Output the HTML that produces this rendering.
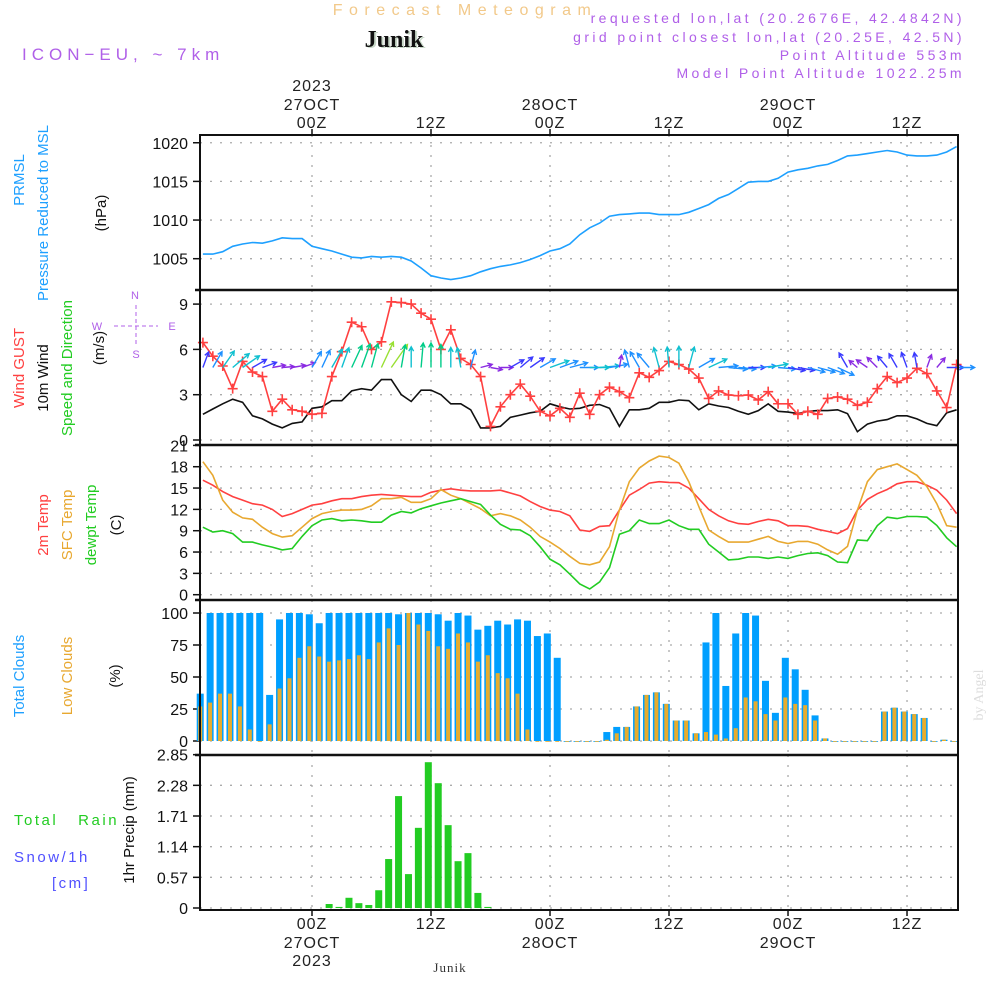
<!DOCTYPE html>
<html><head><meta charset="utf-8"><style>
html,body{margin:0;padding:0;background:#fff;}
svg{display:block;font-family:"Liberation Sans",sans-serif;}
</style></head><body>
<svg id="chart" width="1000" height="1000" viewBox="0 0 1000 1000">
<g id="static">
<text x="465" y="15" font-size="16" fill="#f2c98a" text-anchor="middle" letter-spacing="6.5">Forecast Meteogram</text>
<text x="396" y="48" font-size="24" font-weight="bold" font-family="Liberation Serif,serif" fill="#c8d8c8" text-anchor="middle">Junik</text>
<text x="394" y="47" font-size="24" font-weight="bold" font-family="Liberation Serif,serif" fill="#111" text-anchor="middle">Junik</text>
<text x="22" y="60" font-size="17" fill="#b060e8" letter-spacing="5">ICON−EU, ~ 7km</text>
<g font-size="14" fill="#b060e8" text-anchor="end" letter-spacing="3.4">
<text x="965" y="23">requested lon,lat (20.2676E, 42.4842N)</text>
<text x="965" y="42">grid point closest lon,lat (20.25E, 42.5N)</text>
<text x="965" y="60">Point Altitude 553m</text>
<text x="965" y="78">Model Point Altitude 1022.25m</text>
</g>
<g font-size="16" fill="#222" text-anchor="middle" letter-spacing="1">
<text x="312" y="91">2023</text><text x="312" y="110">27OCT</text><text x="312" y="128">00Z</text>
<text x="431" y="128">12Z</text>
<text x="550" y="110">28OCT</text><text x="550" y="128">00Z</text>
<text x="669" y="128">12Z</text>
<text x="788" y="110">29OCT</text><text x="788" y="128">00Z</text>
<text x="907" y="128">12Z</text>
</g>
<g font-size="16" fill="#222" text-anchor="middle" letter-spacing="1">
<text x="312" y="929">00Z</text><text x="312" y="948">27OCT</text><text x="312" y="966">2023</text>
<text x="431" y="929">12Z</text>
<text x="550" y="929">00Z</text><text x="550" y="948">28OCT</text>
<text x="669" y="929">12Z</text>
<text x="788" y="929">00Z</text><text x="788" y="948">29OCT</text>
<text x="907" y="929">12Z</text>
</g>
<text x="450" y="972" font-size="13" font-family="Liberation Serif,serif" fill="#333" text-anchor="middle" letter-spacing="1">Junik</text>
<text transform="translate(983,695) rotate(-90)" font-size="14" font-family="Liberation Serif,serif" fill="#ddd" text-anchor="middle">by Angel</text>
<g font-size="15" text-anchor="middle">
<text transform="translate(24,180) rotate(-90)" fill="#1ea0ff">PRMSL</text>
<text transform="translate(48,213) rotate(-90)" fill="#1ea0ff">Pressure Reduced to MSL</text>
<text transform="translate(106,213) rotate(-90)" fill="#111">(hPa)</text>
<text transform="translate(24,368) rotate(-90)" fill="#ff4040">Wind GUST</text>
<text transform="translate(48,378) rotate(-90)" fill="#111">10m Wind</text>
<text transform="translate(72,368) rotate(-90)" fill="#22cc22">Speed and Direction</text>
<text transform="translate(104,348) rotate(-90)" fill="#111">(m/s)</text>
<text transform="translate(48,525) rotate(-90)" fill="#ff4040">2m Temp</text>
<text transform="translate(72,525) rotate(-90)" fill="#e8a830">SFC Temp</text>
<text transform="translate(96,525) rotate(-90)" fill="#22cc22">dewpt Temp</text>
<text transform="translate(121,525) rotate(-90)" fill="#111">(C)</text>
<text transform="translate(24,676) rotate(-90)" fill="#1ea0ff">Total Clouds</text>
<text transform="translate(72,676) rotate(-90)" fill="#e8a830">Low Clouds</text>
<text transform="translate(120,676) rotate(-90)" fill="#111">(%)</text>
<text transform="translate(134,830) rotate(-90)" fill="#111">1hr Precip (mm)</text>
</g>
<g font-size="15" letter-spacing="2.5">
<text x="14" y="825" fill="#22cc22">Total &#160;&#160;Rain</text>
<text x="14" y="862" fill="#5050ff">Snow/1h</text>
<text x="52" y="888" fill="#5050ff">[cm]</text>
</g>
<g fill="#b060e8" stroke="#b060e8" font-size="11" text-anchor="middle">
<text x="135" y="299" stroke="none">N</text><text x="97" y="330" stroke="none">W</text><text x="172" y="330" stroke="none">E</text><text x="136" y="358" stroke="none">S</text>
<line x1="136" y1="305" x2="136" y2="345" stroke-dasharray="4,3"/><line x1="114" y1="326" x2="158" y2="326" stroke-dasharray="4,3"/>
</g>
</g>
<g id="plots"></g>
</svg>
<script>
const tickHours = [0, 12, 24, 36, 48, 60];
const hours = [];
for (let h = -11; h <= 65; h++) hours.push(h);
const pressure = [1005.6,1005.6,1005.9,1006.6,1006.9,1007.1,1007.0,1007.3,1007.7,1007.6,1007.6,1006.6,1006.3,1006.0,1005.6,1005.2,1005.1,1005.3,1005.2,1005.3,1005.2,1004.7,1003.8,1002.8,1002.5,1002.3,1002.5,1002.8,1003.3,1003.7,1004.0,1004.2,1004.5,1004.9,1005.4,1006.0,1006.3,1006.9,1008.1,1009.0,1009.6,1010.5,1010.7,1010.8,1010.9,1010.9,1010.7,1010.7,1010.7,1011.0,1011.5,1012.0,1012.8,1013.3,1014.1,1014.9,1015.0,1015.0,1015.4,1016.2,1016.5,1016.7,1017.0,1017.2,1017.7,1018.3,1018.4,1018.6,1018.8,1019.0,1018.8,1018.4,1018.3,1018.3,1018.4,1018.8,1019.5];
const pressureTicks = [1005, 1010, 1015, 1020];
const windSpeed = [1.7,2.05,2.4,2.7,2.5,1.6,1.4,1.05,0.8,1.1,1.2,2.1,2.2,2.6,2.6,3.25,3.4,3.3,4.0,4.0,3.0,2.55,3.3,3.3,3.0,2.4,2.4,2.0,0.8,0.8,0.9,1.5,1.65,1.8,1.9,2.4,2.2,2.05,2.1,2.3,2.35,2.1,0.9,2.0,2.0,2.1,2.5,2.5,2.65,2.6,2.0,2.4,2.25,2.15,1.9,1.7,1.95,2.4,1.9,1.85,1.75,1.9,1.95,1.95,2.0,1.75,0.55,1.05,1.25,1.35,1.6,1.6,1.4,1.1,0.95,1.8,2.0];
const windGust = [6.45,5.55,4.9,3.4,5.2,4.5,4.2,1.9,2.7,2.0,1.9,1.7,1.77,4.2,5.85,7.8,7.5,6.0,6.5,9.15,9.1,9.0,8.4,8.0,6.0,7.3,5.4,5.0,4.2,0.9,2.2,3.0,3.7,2.9,1.9,1.6,2.1,1.5,3.1,1.7,3.0,3.5,3.2,2.8,4.45,4.15,4.6,5.2,5.0,4.7,4.1,2.75,3.25,2.98,2.93,2.98,2.65,3.2,2.4,2.4,1.7,1.9,1.7,2.75,2.85,2.7,2.3,2.5,3.4,4.2,3.8,4.1,4.75,4.4,3.25,2.15,5.0];
const windDir = [20,30,35,50,55,60,70,80,85,80,70,30,25,30,20,25,20,15,25,35,10,0,5,0,0,0,350,15,75,100,90,60,50,55,60,70,70,75,90,90,85,80,10,345,330,320,345,355,0,15,60,65,85,95,95,90,85,80,95,100,100,105,105,110,115,330,310,305,315,320,330,340,350,20,40,90,90];
const windTicks = [0, 3, 6, 9];
const temp2m = [16.1,15.4,14.5,13.8,13.3,12.8,12.6,12.0,11.0,11.4,12.0,12.6,12.8,13.2,13.5,13.5,13.8,14.0,14.1,14.0,13.9,13.8,13.8,14.4,14.7,14.9,14.7,14.6,14.6,14.6,14.7,14.3,13.9,13.1,12.4,11.9,11.7,11.1,9.1,8.9,9.6,9.7,11.9,14.0,14.8,15.7,15.9,15.8,15.75,15.0,13.5,12.0,11.1,10.4,10.0,9.9,10.3,10.6,10.4,9.7,9.7,9.6,9.2,8.9,8.6,9.3,11.9,13.4,14.2,14.8,15.6,15.9,15.9,15.4,14.7,13.3,11.4];
const tempSfc = [18.7,16.8,13.3,11.6,10.8,10.6,9.5,8.6,8.1,8.3,9.5,10.7,11.4,11.7,11.9,11.9,12.0,12.5,13.5,13.5,13.7,13.0,13.0,13.5,14.8,14.0,13.5,12.8,12.1,11.1,11.4,11.1,10.5,9.5,8.2,7.4,6.5,5.4,4.4,4.2,4.6,6.75,11.9,15.9,17.8,18.8,19.5,19.3,18.5,15.9,12.4,9.1,8.2,7.4,7.4,7.4,7.8,8.2,7.5,7.2,7.5,7.5,7.1,6.3,5.7,6.8,11.9,15.9,17.6,18.0,18.4,17.6,16.8,15.2,12.8,9.7,9.5];
const tempDew = [9.5,8.8,9.0,8.6,7.4,7.4,7.0,6.7,6.3,6.5,8.2,9.7,10.5,10.7,10.4,10.5,10.4,10.2,10.2,11.2,11.7,11.5,12.1,12.5,12.9,13.2,13.5,13.1,12.7,11.2,9.9,9.2,9.1,8.3,6.75,5.0,4.2,2.9,1.5,0.8,1.8,3.8,8.5,9.0,10.5,10.0,10.0,10.5,9.7,9.2,9.2,7.1,6.0,4.9,5.0,5.3,5.3,5.1,5.3,5.1,5.5,5.8,5.9,5.5,4.6,4.5,7.7,7.6,9.7,10.9,10.7,11.0,11.0,10.9,9.75,8.0,6.75];
const tempTicks = [0, 3, 6, 9, 12, 15, 18, 21];
const cloudTotal = [37,100,100,100,100,100,100,36,95,100,100,99,92,100,100,100,100,100,100,100,99,100,100,100,99,94,100,98,87,90,94,91,95,94,82,84,65,0,0,0,0,7,11,11,27,36,38,29,16,16,6,77,100,43,84,100,98,47,22,65,56,40,20,2,0,0,0,0,0,23,26,23,21,18,0,1,0];
const cloudLow = [27,30,37,37,27,9,0,13,41,49,65,74,66,62,63,64,67,64,77,88,75,100,91,86,74,72,84,77,62,67,53,49,37,9,0,0,0,0,0,0,0,1,6,11,27,36,38,29,16,16,6,7,5,2,10,34,31,21,16,34,29,28,16,2,0,0,0,0,0,23,26,23,21,18,0,1,0];
const cloudTicks = [0, 25, 50, 75, 100];
const precip = [0,0,0,0,0,0,0,0,0,0,0,0,0,0.074,0.02,0.19,0.09,0.056,0.33,0.91,2.08,0.63,1.49,2.71,2.32,1.54,0.87,1.02,0.28,0.02,0,0,0,0,0,0,0,0,0,0,0,0,0,0,0,0,0,0,0,0,0,0,0,0,0,0,0,0,0,0,0,0,0,0,0,0,0,0,0,0,0,0,0,0,0,0,0];
const precipTicks = ["0", "0.57", "1.14", "1.71", "2.28", "2.85"];

const X0 = 200, X1 = 958;
function xs(t) { return 312 + t * 9.917; }
function yP(v) { return 258.7 - (v - 1005) * 7.73; }
function yW(v) { return 440 - v * 15.1; }
function yT(v) { return 594.7 - v * 7.11; }
function yC(v) { return 741 - v * 1.28; }
function yR(v) { return 908 - v * 53.8; }

const NS = "http://www.w3.org/2000/svg";
const root = document.getElementById("plots");
function mk(tag, attrs, parent) {
  const e = document.createElementNS(NS, tag);
  for (const k in attrs) e.setAttribute(k, attrs[k]);
  (parent || root).appendChild(e);
  return e;
}
function grp(name) {
  const g = mk("g", {});
  
  
  return g;
}
function panel(name, top, bottom, ticks, yf) {
  const g = grp(name);
  ticks.forEach(function (tk) {
    const v = parseFloat(tk);
    const y = yf(v);
    const gl = mk("line", {x1: X0, x2: X1, y1: y, y2: y, stroke: "#aaa", "stroke-width": 1.3, "stroke-dasharray": "2,8"}, g);
    
    
    mk("line", {x1: X0 - 7, x2: X0, y1: y, y2: y, stroke: "#111", "stroke-width": 1.5}, g);
    const tx = mk("text", {x: 188, y: y + 6, "font-size": 16, fill: "#111", "text-anchor": "end"}, g);
    tx.textContent = tk;
    
    
  });
  tickHours.forEach(function (h) {
    const x = xs(h);
    const vl = mk("line", {x1: x, x2: x, y1: top, y2: bottom, stroke: "#aaa", "stroke-width": 1.3, "stroke-dasharray": "2,8"}, g);
    
    
  });
  return g;
}
function line(name, data, yf, color, parent) {
  let d = "";
  data.forEach(function (v, i) { d += (i ? "L" : "M") + xs(hours[i]).toFixed(1) + "," + yf(v).toFixed(1); });
  const p = mk("path", {d: d, fill: "none", stroke: color, "stroke-width": 1.6}, parent);
  
  
}

const gp = panel("pressure-panel", 135, 290, pressureTicks.map(String), yP);
line("pressure-line", pressure, yP, "#1ea0ff", gp);

const gw = panel("wind-panel", 290, 445, windTicks.map(String), yW);
line("wind-speed-line", windSpeed, yW, "#111", gw);
line("wind-gust-line", windGust, yW, "#ff4040", gw);
windGust.forEach(function (v, i) {
  const x = xs(hours[i]), y = yW(v);
  const m = mk("path", {d: "M" + (x - 5) + "," + y + "H" + (x + 5) + "M" + x + "," + (y - 5) + "V" + (y + 5), stroke: "#ff4040", "stroke-width": 1.6}, gw);
  
  
});
function windColor(s) {
  if (s < 1.3) return "#8a2be2";
  if (s < 1.9) return "#3a3aff";
  if (s < 2.3) return "#1e90ff";
  if (s < 2.8) return "#10c0d0";
  if (s < 3.5) return "#00cc88";
  if (s < 3.8) return "#20cc20";
  return "#99e033";
}
windSpeed.forEach(function (s, i) {
  const x0 = xs(hours[i]), y0 = yW(4.8);
  const a = windDir[i] * Math.PI / 180;
  const L = 8 + s * 5;
  const x1 = x0 + Math.sin(a) * L, y1 = y0 - Math.cos(a) * L;
  const h = 5, b = Math.atan2(y1 - y0, x1 - x0);
  const d = "M" + x0.toFixed(1) + "," + y0.toFixed(1) + "L" + x1.toFixed(1) + "," + y1.toFixed(1) +
    "M" + (x1 - h * Math.cos(b - 0.5)).toFixed(1) + "," + (y1 - h * Math.sin(b - 0.5)).toFixed(1) + "L" + x1.toFixed(1) + "," + y1.toFixed(1) +
    "L" + (x1 - h * Math.cos(b + 0.5)).toFixed(1) + "," + (y1 - h * Math.sin(b + 0.5)).toFixed(1);
  const ar = mk("path", {d: d, fill: "none", stroke: windColor(s), "stroke-width": 1.4}, gw);
  
  
});

const gt = panel("temperature-panel", 445, 600, tempTicks.map(String), yT);
line("temp-2m-line", temp2m, yT, "#ff4040", gt);
line("temp-sfc-line", tempSfc, yT, "#e8a830", gt);
line("dewpoint-line", tempDew, yT, "#22cc22", gt);

const gc = panel("cloud-panel", 600, 755, cloudTicks.map(String), yC);
cloudTotal.forEach(function (v, i) {
  const x = xs(hours[i]) - 2.7;
  const b = mk("rect", {x: x - 3.5, y: yC(v), width: 7, height: Math.max(yC(0) - yC(v), 0.8), fill: "#009fff"}, gc);
  
  
  const lv = cloudLow[i];
  const o = mk("rect", {x: x - 2, y: yC(lv), width: 4, height: Math.max(yC(0) - yC(lv), 0.8), fill: "#e6ac2e"}, gc);
  
  
});

const gr = panel("precip-panel", 755, 910, precipTicks, yR);
precip.forEach(function (v, i) {
  if (v <= 0) return;
  const x = xs(hours[i]) - 2.7;
  const b = mk("rect", {x: x - 3.5, y: yR(v), width: 7, height: yR(0) - yR(v), fill: "#22cc22"}, gr);
  
  
});

const gf = grp("panel-frames");
mk("rect", {x: X0, y: 135, width: X1 - X0, height: 775, fill: "none", stroke: "#111", "stroke-width": 2}, gf);
[290, 445, 600, 755].forEach(function (y) {
  mk("line", {x1: X0 - 5, x2: X1, y1: y, y2: y, stroke: "#111", "stroke-width": 2.5}, gf);
});
tickHours.forEach(function (h) {
  const x = xs(h);
  mk("line", {x1: x, x2: x, y1: 129, y2: 136, stroke: "#111", "stroke-width": 1.5}, gf);
  mk("line", {x1: x, x2: x, y1: 909, y2: 916, stroke: "#111", "stroke-width": 1.5}, gf);
});
</script>
</body></html>
